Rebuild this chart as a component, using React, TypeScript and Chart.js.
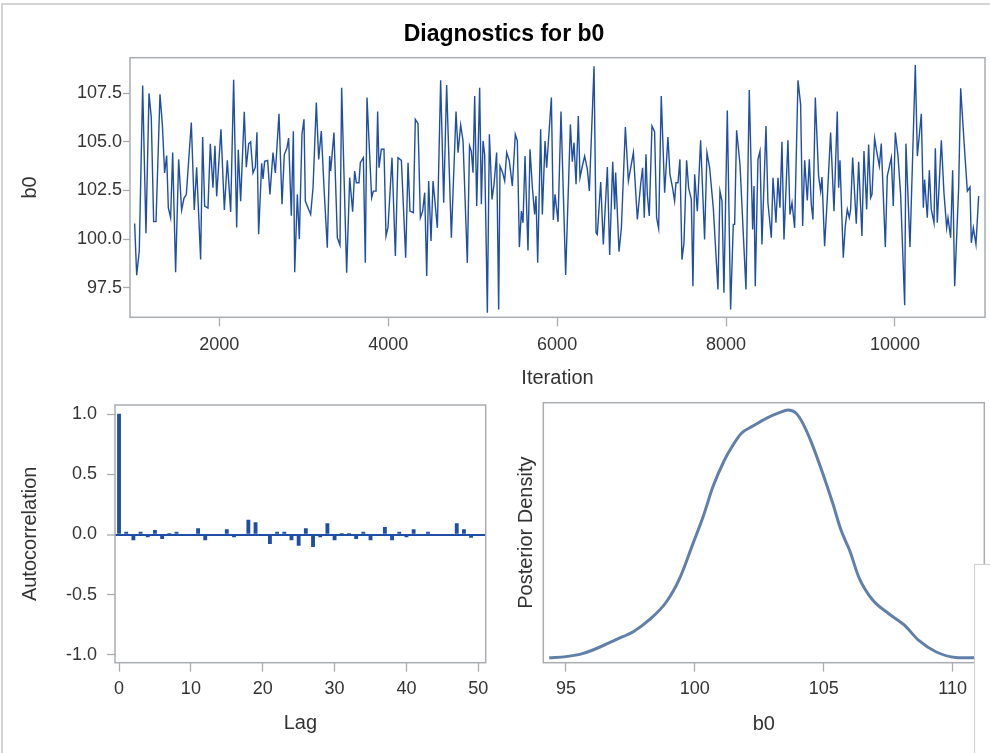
import React, { useEffect, useRef } from "react";
import { Chart, registerables } from "chart.js";

Chart.register(...registerables);

const FONT = "'Liberation Sans', Arial, Helvetica, sans-serif";
const TRACE_BLUE = "#1f4ea6";
const DENSITY_BLUE = "#6080ab";
const FRAME_GRAY = "#a9adb1";
const TEXT_GRAY = "#333333";

// ---- Trace plot (iteration, b0) ----
const ITERATIONS = [
  998, 1022, 1053, 1093, 1132, 1168, 1195, 1223, 1251, 1298, 1326, 1353, 1377, 1397, 1424, 1448, 1483, 1519, 1554, 1582,
  1610, 1669, 1704, 1732, 1779, 1803, 1827, 1866, 1894, 1925, 1949, 1969, 2020, 2060, 2095, 2135, 2170, 2206, 2225, 2253,
  2296, 2320, 2348, 2371, 2399, 2427, 2446, 2466, 2502, 2518, 2537, 2573, 2600, 2636, 2664, 2707, 2743, 2770, 2802, 2821,
  2853, 2877, 2893, 2924, 2948,
  2979, 3003, 3019, 3050, 3082, 3110, 3149, 3177, 3208, 3240, 3279, 3307, 3319, 3358, 3398, 3429, 3449, 3508, 3544, 3579,
  3603, 3623, 3654, 3670, 3706, 3729, 3749, 3804, 3824, 3856, 3875, 3891, 3919, 3950, 3974, 3998, 4045, 4085, 4116, 4156,
  4207, 4235, 4258, 4298, 4321, 4353, 4381, 4408, 4432, 4456, 4479, 4507, 4531, 4582, 4621, 4657, 4692, 4748, 4803, 4827,
  4858, 4886, 4937, 4963,
  4984, 5004, 5024, 5048, 5083, 5103, 5123, 5142, 5174, 5198, 5229, 5253, 5284, 5308, 5324, 5355, 5379, 5403, 5434, 5470,
  5505, 5529, 5553, 5577, 5596, 5620, 5655, 5679, 5707, 5734, 5750, 5770, 5805, 5825, 5857, 5876, 5932, 5955, 5975, 6011,
  6046, 6101, 6157, 6180, 6200, 6224, 6251, 6271, 6299, 6326, 6358, 6382, 6437, 6461, 6476, 6516, 6547, 6595, 6622, 6658,
  6682, 6693, 6733, 6761, 6808, 6844, 6903, 6950,
  6989, 7012, 7032, 7052, 7068, 7091, 7123, 7154, 7178, 7202, 7233, 7273, 7312, 7336, 7367, 7391, 7407, 7431, 7454, 7478,
  7502, 7533, 7557, 7589, 7608, 7628, 7660, 7699, 7746, 7774, 7806, 7849, 7904, 7928, 7952, 7975, 8015, 8054, 8086, 8102,
  8125, 8165, 8236, 8275, 8315, 8331, 8346, 8378, 8402, 8425, 8473, 8496, 8536, 8556, 8575, 8591, 8615, 8638, 8662, 8686,
  8733, 8757, 8781, 8812, 8852, 8883, 8907, 8931, 8962, 8986,
  9009, 9029, 9057, 9096, 9120, 9136, 9167, 9199, 9238, 9278, 9317, 9333, 9349, 9388, 9412, 9436, 9459, 9475, 9499, 9542,
  9570, 9609, 9633, 9665, 9688, 9712, 9728, 9759, 9783, 9815, 9838, 9886, 9909, 9957, 9980, 10004, 10036, 10067, 10115, 10130,
  10178, 10241, 10265, 10312, 10336, 10351, 10383, 10407, 10430, 10462, 10478, 10501, 10549, 10580, 10612, 10628, 10659, 10683, 10707, 10754,
  10778, 10825, 10857, 10888, 10904, 10928, 10959, 10991,
];

const B0_DRAWS = [
  100.8, 98.15, 99.4, 107.9, 100.3, 107.5, 106.25, 100.9, 100.9, 107.45, 105.9, 103.4, 104.3, 101.6, 101.1, 104.45, 98.3, 104.1, 101.5, 102.1,
  102.3, 106.0, 101.5, 103.7, 98.95, 105.25, 101.7, 101.6, 104.9, 102.65, 104.8, 102.2, 105.65, 101.5, 104.05, 101.4, 108.2, 100.6, 104.6, 101.95,
  106.55, 103.7, 104.9, 105.0, 103.4, 103.7, 105.5, 100.25, 103.9, 103.1, 104.0, 104.05, 102.3, 104.45, 103.4, 106.45, 101.8, 104.35, 104.7, 105.2,
  101.2, 105.55, 98.3, 102.3, 100.0,
  105.39, 106.16, 101.96, 101.61, 101.27, 102.64, 107.02, 104.1, 105.56, 102.64, 99.56, 104.27, 103.5, 105.48, 100.07, 99.69, 107.79, 98.27, 103.16, 101.41,
  103.5, 102.9, 102.9, 103.93, 104.19, 98.78, 107.28, 102.13, 102.47, 102.47, 106.56, 103.67, 104.62, 104.62, 100.16, 100.62, 104.19, 99.13, 104.19, 104.05,
  99.04, 103.93, 101.44, 101.36, 106.16, 105.94, 101.1, 101.44, 102.39, 98.1, 102.99, 99.9, 102.99, 100.58, 108.17, 101.87, 107.93, 100.07, 106.56, 104.45,
  105.87, 105.05, 98.78, 104.8,
  104.53, 103.42, 107.36, 101.7, 107.79, 101.79, 105.05, 104.36, 96.21, 105.39, 102.04, 102.82, 104.45, 96.38, 103.76, 103.42, 102.99, 104.45, 104.02, 102.73,
  105.39, 105.05, 99.59, 101.44, 100.84, 104.27, 99.42, 104.62, 102.64, 101.27, 102.22, 98.78, 105.65, 101.27, 105.05, 103.67, 107.28, 100.98, 102.3, 100.89,
  106.56, 98.15, 105.9, 103.98, 104.96, 102.82, 106.33, 103.16, 103.76, 104.27, 103.59, 102.47, 108.89, 100.33, 100.24, 102.94, 99.73, 103.71, 99.18, 103.98,
  101.53, 103.42, 99.35, 100.58, 105.77, 102.99, 104.45, 101.01,
  102.82, 103.67, 101.1, 104.36, 102.3, 101.19, 105.82, 105.53, 101.1, 100.55, 107.36, 102.39, 105.25, 103.33, 102.64, 101.96, 102.9, 102.9, 104.1, 98.95,
  99.81, 104.05, 102.64, 102.04, 97.58, 103.33, 101.44, 105.08, 99.98, 104.45, 103.67, 101.61, 97.41, 102.47, 101.96, 97.24, 106.62, 96.38, 100.76, 100.76,
  105.6, 103.85, 97.41, 107.67, 100.5, 102.73, 97.58, 104.1, 104.53, 99.73, 105.82, 101.87, 100.07, 103.16, 101.96, 100.84, 103.16, 101.61, 105.01, 99.98,
  105.08, 101.27, 101.87, 100.58, 108.17, 106.93, 100.67, 104.05, 101.99, 104.1,
  101.79, 101.01, 107.28, 103.24, 102.47, 103.19, 99.64, 102.13, 105.48, 101.44, 106.56, 102.64, 104.05, 99.04, 100.67, 101.53, 101.1, 101.53, 104.19, 100.79,
  103.98, 100.16, 104.53, 101.53, 104.87, 102.13, 102.3, 105.18, 104.53, 103.76, 104.91, 99.59, 103.24, 104.19, 101.7, 105.48, 104.27, 102.3, 96.6, 104.91,
  99.59, 108.96, 104.27, 106.45, 101.61, 103.07, 101.1, 103.54, 101.53, 100.84, 104.67, 100.84, 105.08, 102.39, 100.58, 101.1, 100.07, 103.54, 97.58, 102.64,
  107.76, 104.53, 102.47, 102.68, 99.81, 100.58, 99.73, 102.22,
];

const TRACE_X_TICKS = [2000, 4000, 6000, 8000, 10000];
const TRACE_Y_TICKS = [97.5, 100, 102.5, 105, 107.5];

// ---- Autocorrelation ----
const LAGS = [
  0, 1, 2, 3, 4, 5, 6, 7, 8, 9, 10, 11, 12, 13, 14, 15, 16, 17, 18, 19, 20, 21, 22, 23, 24, 25,
  26, 27, 28, 29, 30, 31, 32, 33, 34, 35, 36, 37, 38, 39, 40, 41, 42, 43, 44, 45, 46, 47, 48, 49, 50,
];
const AUTOCORR = [
  1.0, 0.02, -0.045, 0.02, -0.02, 0.035, -0.035, 0.01, 0.02, 0.0, 0.0, 0.05, -0.045, -0.01, -0.005, 0.04, -0.02, -0.005, 0.12, 0.1,
  -0.01, -0.075, 0.02, 0.02, -0.045, -0.09, 0.05, -0.1, -0.02, 0.09, -0.045, 0.005, 0.005, -0.035, 0.02, -0.045, -0.005, 0.06, -0.045, 0.02,
  -0.02, 0.04, 0.0, 0.02, -0.005, -0.005, 0.0, 0.09, 0.04, -0.025, -0.01,
];
const ACF_X_TICKS = [0, 10, 20, 30, 40, 50];
const ACF_Y_TICKS = [-1, -0.5, 0, 0.5, 1];

// ---- Posterior density ----
const DENSITY_B0 = [
  94.35, 95.0, 95.67, 96.32, 96.96, 97.61, 98.25, 98.9, 99.41, 99.93, 100.32, 100.7, 101.15, 101.48, 101.8, 102.25, 102.77,
  103.28, 103.61, 103.93, 104.19, 104.51, 104.96, 105.35, 105.67, 106.0, 106.38, 106.9, 107.54, 108.12, 108.7, 109.35, 110.12,
  110.77, 111.1,
];
const DENSITY = [
  0.0, 0.0007, 0.0028, 0.007, 0.012, 0.017, 0.025, 0.0366, 0.0519, 0.0748, 0.0922, 0.1118, 0.1293, 0.1391, 0.1467, 0.1515, 0.1566,
  0.1603, 0.162, 0.1599, 0.1533, 0.1413, 0.1206, 0.101, 0.0835, 0.0704, 0.0519, 0.0377, 0.0286, 0.0214, 0.0111, 0.0039, 0.0002,
  0.0, 0.0,
];
const DENSITY_X_TICKS = [95, 100, 105, 110];

const framePlugin = {
  id: "frame",
  afterDatasetsDraw(chart: any) {
    const { ctx, chartArea: a } = chart;
    ctx.save();
    ctx.strokeStyle = FRAME_GRAY;
    ctx.lineWidth = 1.5;
    ctx.strokeRect(a.left, a.top, a.right - a.left, a.bottom - a.top);
    ctx.restore();
  },
};

const tickFont = { size: 18, family: FONT };
const titleFont = { size: 20, family: FONT };

function fixTicks(values: number[]) {
  return (scale: any) => {
    scale.ticks = values.map((v) => ({ value: v }));
  };
}

function tickGrid(len: number) {
  return {
    display: true,
    drawOnChartArea: false,
    drawTicks: true,
    tickLength: len,
    tickColor: FRAME_GRAY,
    tickWidth: 1.3,
    offset: false,
  };
}

export default function App() {
  const traceRef = useRef<HTMLCanvasElement | null>(null);
  const acfRef = useRef<HTMLCanvasElement | null>(null);
  const densRef = useRef<HTMLCanvasElement | null>(null);

  useEffect(() => {
    Chart.defaults.font.family = FONT;
    const charts: Chart[] = [];

    charts.push(
      new Chart(traceRef.current as HTMLCanvasElement, {
        type: "line",
        data: {
          datasets: [
            {
              data: ITERATIONS.map((it, i) => ({ x: it, y: B0_DRAWS[i] })),
              borderColor: TRACE_BLUE,
              borderWidth: 1.4,
              pointRadius: 0,
              tension: 0,
              fill: false,
              yAxisID: "y",
            },
          ],
        },
        options: {
          animation: false,
          responsive: false,
          devicePixelRatio: 1,
          layout: { padding: { left: 0, right: 0, top: 0, bottom: 0 } },
          plugins: {
            legend: { display: false },
            tooltip: { enabled: false },
            title: {
              display: true,
              text: "Diagnostics for b0",
              color: "#000",
              font: { size: 23, weight: "bold", family: FONT },
              padding: { top: 20.5, bottom: 9.6 },
            },
          },
          scales: {
            x: {
              type: "linear",
              min: 943,
              max: 11066,
              afterBuildTicks: fixTicks(TRACE_X_TICKS),
              afterFit: (s: any) => {
                s.height = 82.7;
              },
              ticks: { font: tickFont, color: TEXT_GRAY, padding: 8, maxRotation: 0, callback: (v: any) => String(v) },
              grid: tickGrid(9),
              border: { display: false },
              title: { display: true, text: "Iteration", font: titleFont, color: TEXT_GRAY, padding: { top: 0, bottom: 10 } },
            },
            y: {
              type: "linear",
              position: "left",
              min: 95.98,
              max: 109.33,
              afterBuildTicks: fixTicks(TRACE_Y_TICKS),
              afterFit: (s: any) => {
                s.width = 130;
              },
              ticks: { font: tickFont, color: TEXT_GRAY, padding: 1, callback: (v: any) => Number(v).toFixed(1) },
              grid: tickGrid(7),
              border: { display: false },
              title: { display: true, text: "b0", font: titleFont, color: TEXT_GRAY, padding: { top: 18, bottom: 0 } },
            },
            rightGap: {
              type: "linear",
              position: "right",
              display: true,
              afterFit: (s: any) => {
                s.width = 23;
              },
              ticks: { display: false },
              grid: { display: false },
              border: { display: false },
            },
          },
        } as any,
        plugins: [framePlugin],
      })
    );

    charts.push(
      new Chart(acfRef.current as HTMLCanvasElement, {
        type: "bar",
        data: {
          datasets: [
            {
              data: LAGS.map((l, i) => ({ x: l, y: AUTOCORR[i] })),
              backgroundColor: TRACE_BLUE,
              borderWidth: 0,
              barThickness: 3.2,
            },
          ],
        },
        options: {
          animation: false,
          responsive: false,
          devicePixelRatio: 1,
          layout: { padding: { left: 0, right: 14.3, top: 25, bottom: 0 } },
          plugins: { legend: { display: false }, tooltip: { enabled: false } },
          scales: {
            x: {
              type: "linear",
              offset: false,
              min: -0.56,
              max: 51.03,
              afterBuildTicks: fixTicks(ACF_X_TICKS),
              afterFit: (s: any) => {
                s.height = 90.3;
              },
              ticks: { font: tickFont, color: TEXT_GRAY, padding: 7, maxRotation: 0, callback: (v: any) => String(v) },
              grid: tickGrid(9),
              border: { display: false },
              title: { display: true, text: "Lag", font: titleFont, color: TEXT_GRAY, padding: { top: 0, bottom: 18 } },
            },
            y: {
              type: "linear",
              min: -1.064,
              max: 1.075,
              afterBuildTicks: fixTicks(ACF_Y_TICKS),
              afterFit: (s: any) => {
                s.width = 115;
              },
              ticks: { font: tickFont, color: TEXT_GRAY, padding: 10, callback: (v: any) => Number(v).toFixed(1) },
              grid: {
                display: true,
                drawOnChartArea: true,
                drawTicks: true,
                tickLength: 8,
                tickColor: FRAME_GRAY,
                tickWidth: 1.3,
                color: (c: any) => (c.tick && c.tick.value === 0 ? TRACE_BLUE : "rgba(0,0,0,0)"),
                lineWidth: (c: any) => (c.tick && c.tick.value === 0 ? 2 : 1),
              },
              border: { display: false },
              title: { display: true, text: "Autocorrelation", font: titleFont, color: TEXT_GRAY, padding: { top: 18, bottom: 0 } },
            },
          },
        } as any,
        plugins: [framePlugin],
      })
    );

    charts.push(
      new Chart(densRef.current as HTMLCanvasElement, {
        type: "line",
        data: {
          datasets: [
            {
              data: DENSITY_B0.map((b, i) => ({ x: b, y: DENSITY[i] })),
              borderColor: DENSITY_BLUE,
              borderWidth: 3,
              pointRadius: 0,
              cubicInterpolationMode: "monotone",
              fill: false,
            },
          ],
        },
        options: {
          animation: false,
          responsive: false,
          devicePixelRatio: 1,
          layout: { padding: { left: 0, right: 5.7, top: 22.7, bottom: 0 } },
          plugins: { legend: { display: false }, tooltip: { enabled: false } },
          scales: {
            x: {
              type: "linear",
              min: 94.12,
              max: 111.23,
              afterBuildTicks: fixTicks(DENSITY_X_TICKS),
              afterFit: (s: any) => {
                s.height = 90.3;
              },
              ticks: { font: tickFont, color: TEXT_GRAY, padding: 7, maxRotation: 0, callback: (v: any) => String(v) },
              grid: tickGrid(9),
              border: { display: false },
              title: { display: true, text: "b0", font: titleFont, color: TEXT_GRAY, padding: { top: 0, bottom: 17 } },
            },
            y: {
              type: "linear",
              min: -0.00327,
              max: 0.1668,
              afterFit: (s: any) => {
                s.width = 43.3;
              },
              ticks: { display: false },
              grid: { display: false },
              border: { display: false },
              title: { display: true, text: "Posterior Density", font: titleFont, color: TEXT_GRAY, padding: { top: 14.7, bottom: 0 } },
            },
          },
        } as any,
        plugins: [framePlugin],
      })
    );

    return () => {
      charts.forEach((c) => c.destroy());
    };
  }, []);

  return (
    <div
      style={{
        position: "fixed",
        left: 0,
        top: 0,
        width: 990,
        height: 753,
        overflow: "hidden",
        background: "#ffffff",
      }}
    >
      <div
        style={{
          position: "absolute",
          left: 1,
          top: 3,
          width: 1200,
          height: 900,
          borderLeft: "2px solid #d4d4d4",
          borderTop: "2px solid #d4d4d4",
        }}
      />
      <canvas ref={traceRef} width={1008} height={400} style={{ position: "absolute", left: 0, top: 0 }} />
      <canvas ref={acfRef} width={500} height={373} style={{ position: "absolute", left: 0, top: 380 }} />
      <canvas ref={densRef} width={490} height={373} style={{ position: "absolute", left: 500, top: 380 }} />
      <div
        style={{
          position: "absolute",
          left: 974,
          top: 564,
          width: 40,
          height: 220,
          background: "#ffffff",
          borderLeft: "1px solid #cfcfcf",
          borderTop: "1px solid #cfcfcf",
        }}
      />
    </div>
  );
}
